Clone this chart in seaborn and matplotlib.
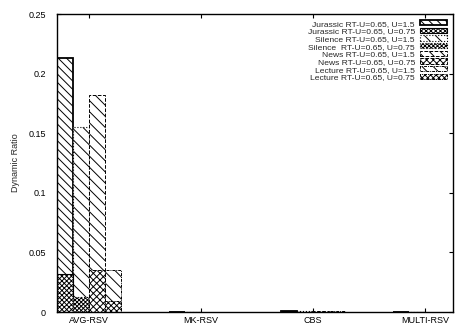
import matplotlib
matplotlib.use("Agg")
import matplotlib.pyplot as plt
import pandas as pd
import seaborn as sns
from matplotlib.patches import Patch

# Scheme categories on the x axis and the four video traces
schemes = ["AVG-RSV", "MK-RSV", "CBS", "MULTI-RSV"]
videos = ["Jurassic", "Silence", "News", "Lecture"]

# Dynamic ratio per scheme, U=1.5 (RT-U=0.65)
jurassic_u15 = [0.213, 0.0004, 0.0012, 0.0004]
silence_u15 = [0.155, 0.0004, 0.0006, 0.0004]
news_u15 = [0.182, 0.0004, 0.0006, 0.0004]
lecture_u15 = [0.035, 0.0004, 0.0006, 0.0004]

# Dynamic ratio per scheme, U=0.75 (RT-U=0.65)
jurassic_u075 = [0.032, 0.0002, 0.0008, 0.0002]
silence_u075 = [0.013, 0.0002, 0.0003, 0.0002]
news_u075 = [0.035, 0.0002, 0.0003, 0.0002]
lecture_u075 = [0.009, 0.0002, 0.0003, 0.0002]

legend_labels = [
    "Jurassic RT-U=0.65, U=1.5",
    "Jurassic RT-U=0.65, U=0.75",
    "Silence RT-U=0.65, U=1.5",
    "Silence  RT-U=0.65, U=0.75",
    "News RT-U=0.65, U=1.5",
    "News RT-U=0.65, U=0.75",
    "Lecture RT-U=0.65, U=1.5",
    "Lecture RT-U=0.65, U=0.75",
]
yticks = [0, 0.05, 0.1, 0.15, 0.2, 0.25]
ytick_labels = ["0", "0.05", "0.1", "0.15", "0.2", "0.25"]


def long_table(series):
    rows = []
    for video, vals in zip(videos, series):
        for scheme, v in zip(schemes, vals):
            rows.append({"scheme": scheme, "video": video, "ratio": v})
    return pd.DataFrame(rows)


df_u15 = long_table([jurassic_u15, silence_u15, news_u15, lecture_u15])
df_u075 = long_table([jurassic_u075, silence_u075, news_u075, lecture_u075])

sns.set_style("ticks")
plt.rcParams["font.family"] = ["Liberation Sans Narrow", "Liberation Sans", "DejaVu Sans"]
plt.rcParams["hatch.linewidth"] = 0.7

# bar styles: (hatch, edge linestyle, edge width)
style_u15 = [
    ("\\\\\\\\", "-", 1.3),
    ("\\\\\\", ":", 0.8),
    ("\\\\\\", "--", 0.7),
    ("\\\\\\", (0, (3, 1, 1, 1)), 0.7),
]
style_u075 = [
    ("xxxxxxx", "-", 0.8),
    ("xxxxxxxx", ":", 0.8),
    ("xxxxx", "--", 0.7),
    ("xxxxxx", (0, (3, 1, 1, 1)), 0.7),
]

fig = plt.figure(figsize=(4.57, 3.24), dpi=100)
ax = fig.add_axes([57 / 457, 12 / 324, (453 - 57) / 457, (312 - 14) / 324])

white = {v: "white" for v in videos}
common = dict(x="scheme", y="ratio", hue="video", order=schemes, hue_order=videos,
              width=0.572, dodge=True, errorbar=None, legend=False,
              palette=white, saturation=1, ax=ax)
sns.barplot(data=df_u15, **common)
sns.barplot(data=df_u075, **common)

styles = style_u15 + style_u075
for container, (hatch, ls, lw) in zip(ax.containers, styles):
    for bar in container:
        bar.set_facecolor("white")
        bar.set_edgecolor("black")
        bar.set_hatch(hatch)
        bar.set_linestyle(ls)
        bar.set_linewidth(lw)

ax.set_xlim(-0.286, 3.25)
ax.set_ylim(0, 0.25)
ax.set_yticks(yticks)
ax.set_yticklabels(ytick_labels)
ax.set_xlabel("")
ax.set_ylabel("Dynamic Ratio", fontsize=6.5, labelpad=6)

for side in ["top", "right", "left", "bottom"]:
    ax.spines[side].set_visible(True)
    ax.spines[side].set_linewidth(1.0)
    ax.spines[side].set_color("black")
ax.tick_params(axis="both", direction="in", length=3, width=0.8, colors="black",
               top=True, right=True, labelsize=6.5)
ax.tick_params(axis="y", pad=8)
ax.tick_params(axis="x", pad=3)

handles = []
for i in range(4):
    for hatch, ls, lw in (style_u15[i], style_u075[i]):
        handles.append(Patch(facecolor="white", edgecolor="black", hatch=hatch,
                             linestyle=ls, linewidth=lw))
ax.legend(handles, legend_labels, loc="upper right", frameon=False, fontsize=6.1,
          markerfirst=False, handlelength=3.2, handleheight=0.6,
          labelspacing=0.0, handletextpad=0.6, borderaxespad=0.3)

fig.savefig("out.png", dpi=100)
